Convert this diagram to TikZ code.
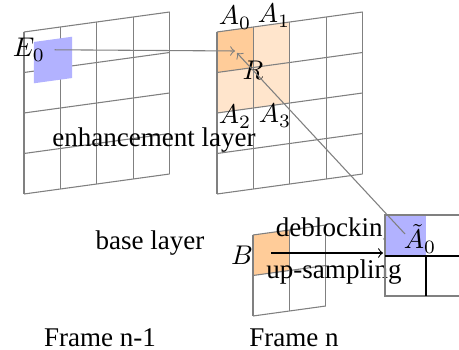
\documentclass[tikz,border=0pt]{standalone}
\usepackage{fontspec}
\setmainfont{Liberation Serif}
\usetikzlibrary{calc}

\begin{document}
\begin{tikzpicture}[x=0.37pt, y=-0.37pt,
    gridline/.style={gray, thin},
    flow/.style={->, gray, thin},
    lbl/.style={anchor=base}]
    \useasboundingbox (0,0) rectangle (459,350);

    % frame n-1, enhancement layer
    \begin{scope}[shift={(24,32)}, x={(36.4,-5)}, y={(0,40.5)}]
        \foreach \i in {0,...,4} \draw[gridline] (\i,0) -- (\i,4);
        \foreach \j in {0,...,4} \draw[gridline] (0,\j) -- (4,\j);
        \fill[blue!30] (0.27,0.28) -- (1.32,0.28) -- (1.32,1.3) -- (0.27,1.3) -- cycle;
    \end{scope}

    % frame n, enhancement layer
    \begin{scope}[shift={(217,32)}, x={(36.4,-5)}, y={(0,40.5)}]
        \fill[orange!20] (0,0) -- (2,0) -- (2,2) -- (0,2) -- cycle;
        \fill[orange!40] (0,0) -- (1,0) -- (1,1) -- (0,1) -- cycle;
        \foreach \i in {0,...,4} \draw[gridline] (\i,0) -- (\i,4);
        \foreach \j in {0,...,4} \draw[gridline] (0,\j) -- (4,\j);
    \end{scope}

    % frame n, base layer
    \begin{scope}[shift={(253,235)}, x={(36.4,-5)}, y={(0,40.5)}]
        \fill[orange!40] (0,0) -- (1,0) -- (1,1) -- (0,1) -- cycle;
        \foreach \i in {0,1,2} \draw[gridline] (\i,0) -- (\i,2);
        \foreach \j in {0,1,2} \draw[gridline] (0,\j) -- (2,\j);
    \end{scope}

    \node[lbl] (E0) at (29,57) {$E_0$};
    \node[lbl] (A0) at (235,25) {$A_0$};
    \node[lbl] (A1) at (274,23) {$A_1$};
    \node[lbl] (A2) at (235,124) {$A_2$};
    \node[lbl] (A3) at (275,123) {$A_3$};
    \node[lbl] (R) at (253,80) {$R$};
    \node[lbl] (B) at (242,265) {$B$};

    \node[lbl] (enh) at (154,147) {enhancement layer};
    \node[lbl] (base) at (150,250) {base layer};
    \node[lbl] (framePrev) at (100,347) {Frame n-1};
    \node[lbl] (frameCur) at (294,347) {Frame n};
    \node[lbl] (deblock) at (336,237) {deblocking};
    \node[lbl] (upsamp) at (334,279) {up-sampling};

    % up-sampled block
    \fill[blue!30] (385,215) rectangle (426,256);
    \draw[gray, thin] (459,215) -- (385,215) -- (385,296) -- (459,296);
    \draw[thin] (385,256) -- (459,256);
    \draw[thin] (426,256) -- (426,296);
    \node[lbl] (At0) at (420,249) {$\tilde{A}_0$};

    \coordinate (hitE) at (235,51);
    \coordinate (hitA) at (237,53);
    \coordinate (tailA) at (405,234);
    \coordinate (bstart) at (271,253);
    \coordinate (bend) at (383,253);

    \draw[flow] (E0.east) -- (hitE);
    \draw[flow] (tailA) -- (hitA);
    \draw[->, thin] (bstart) -- (bend);
\end{tikzpicture}
\end{document}
